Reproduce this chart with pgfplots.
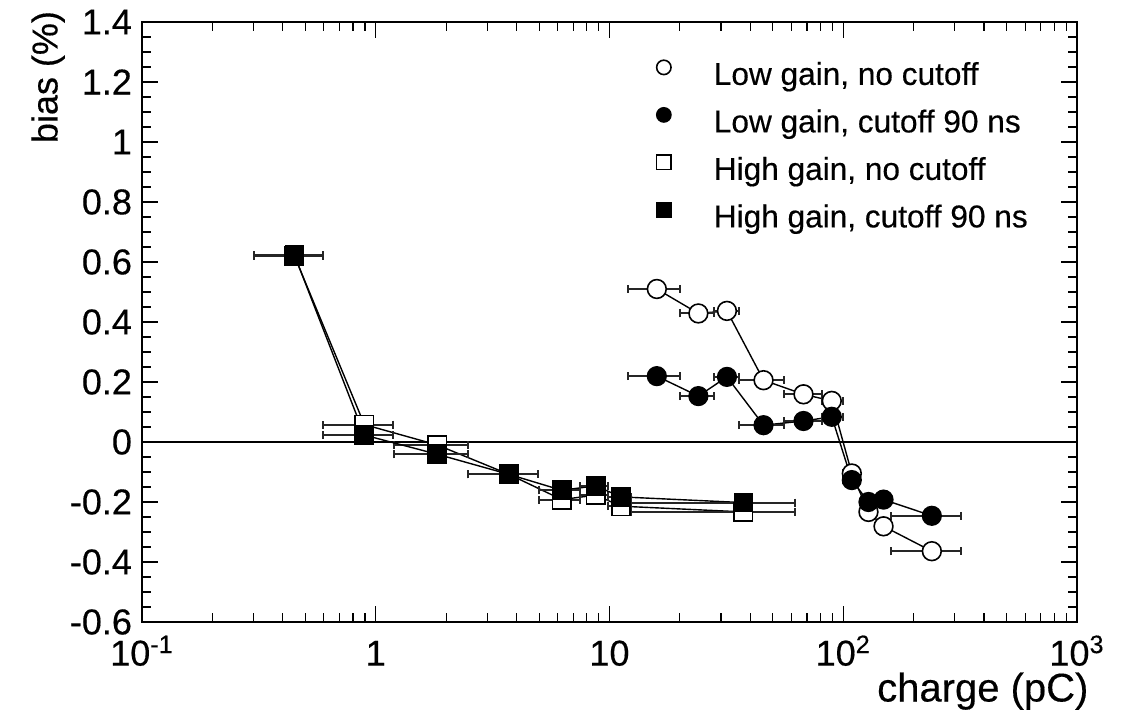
\documentclass[border=0pt]{standalone}
\usepackage{fontspec}
\setmainfont{Liberation Sans}[FakeBold=0.35]
\usepackage{pgfplots}
\pgfplotsset{compat=1.18}
\begin{document}
\begin{tikzpicture}
\path[use as bounding box] (-71pt,-44.15pt) rectangle (490pt,311pt);
\begin{axis}[
  name=ax, at={(0pt,0pt)}, anchor=south west, scale only axis,
  width=467.5pt, height=300pt,
  xmode=log, xmin=0.1, xmax=1000, ymin=-0.6, ymax=1.4,
  xtick={0.1,1,10,100,1000},
  xticklabels={10\textsuperscript{-1},1,10,10\textsuperscript{2},10\textsuperscript{3}},
  ytick={-0.6,-0.4,-0.2,0,0.2,0.4,0.6,0.8,1,1.2,1.4},
  yticklabels={-0.6,-0.4,-0.2,0,0.2,0.4,0.6,0.8,1,1.2,1.4},
  minor y tick num=3,
  tick align=inside, xtick pos=both, ytick pos=both,
  major tick length=8pt, minor tick length=4.5pt,
  tick style={black, line width=0.6pt},
  axis line style={line width=1pt},
  tick label style={font=\fontsize{18}{21}\selectfont},
  xticklabel style={anchor=base, yshift=-21.8pt, inner sep=0.5pt},
  yticklabel style={xshift=-1.5pt},
  xlabel={charge (pC)},
  xlabel style={at={(rel axis cs:1.0255,-0.1325)}, anchor=base east, inner sep=0.5pt, xshift=-5.5pt, font=\fontsize{20}{24}\selectfont},
  ylabel={bias (\%)},
  ylabel style={at={(rel axis cs:-0.0749,1.03)}, anchor=south east, font=\fontsize{18}{21}\selectfont},
  legend style={draw=none, fill=none, at={(rel axis cs:0.547,0.94)}, anchor=north west,
    font=\fontsize{15.8}{19}\selectfont, row sep=7.5pt, inner sep=0pt,
    nodes={inner sep=0pt, text height=11.5pt, text depth=3pt},
    /tikz/every odd column/.append style={column sep=20pt}},
  legend cell align=left,
  legend image code/.code={\path[draw=none,fill=none] (-5pt,-1pt) rectangle (5pt,9pt); \draw[#1, mark size=3.6pt] plot coordinates {(0pt,4.5pt)};},
  every axis plot/.append style={black, line width=0.7pt},
  error bars/error bar style={line width=1pt, black!85},
  error bars/error mark options={rotate=90, mark size=2pt, line width=1pt, black!85},
]
\addplot[black, line width=1.4pt, forget plot] coordinates {(0.1,0) (1000,0)};

% Low gain, no cutoff
\addplot[mark=*, mark size=4.7pt, mark options={fill=white, line width=0.8pt},
  error bars/.cd, x dir=both, x explicit] coordinates {
  (15.94,0.510) += (4.06,0) -= (4.0,0)
  (24.0,0.4285) += (4.1,0) -= (4.0,0)
  (31.8,0.437) += (4.1,0) -= (3.7,0)
  (45.6,0.206) += (10.2,0) -= (9.7,0)
  (67.6,0.159) += (13.3,0) -= (11.8,0)
  (89.3,0.137) += (10.7,0) -= (8.4,0)
  (108.8,-0.105) += (9,0) -= (8.8,0)
  (128.2,-0.233) += (10,0) -= (10,0)
  (148.7,-0.281) += (11,0) -= (11,0)
  (239.3,-0.364) += (80.3,0) -= (79.5,0)
};
\addlegendentry{Low gain, no cutoff}

% Low gain, cutoff 90 ns
\addplot[mark=*, mark size=4.7pt, mark options={fill=black},
  error bars/.cd, x dir=both, x explicit] coordinates {
  (15.94,0.2195) += (4.06,0) -= (4.0,0)
  (24.0,0.153) += (4.1,0) -= (4.0,0)
  (31.8,0.217) += (4.1,0) -= (3.7,0)
  (45.6,0.056) += (10.2,0) -= (9.7,0)
  (67.6,0.070) += (13.3,0) -= (11.8,0)
  (89.3,0.084) += (10.7,0) -= (8.4,0)
  (108.8,-0.127) += (9,0) -= (8.8,0)
  (128.2,-0.200) += (10,0) -= (10,0)
  (148.7,-0.192) += (11,0) -= (11,0)
  (239.3,-0.246) += (80.3,0) -= (79.5,0)
};
\addlegendentry{Low gain, cutoff 90 ns}

% High gain, no cutoff
\addplot[mark=square*, mark size=4.6pt, mark options={fill=white, line width=0.8pt},
  error bars/.cd, x dir=both, x explicit] coordinates {
  (0.449,0.620) += (0.148,0) -= (0.149,0)
  (0.894,0.058) += (0.295,0) -= (0.297,0)
  (1.835,-0.010) += (0.655,0) -= (0.637,0)
  (3.72,-0.108) += (1.24,0) -= (1.23,0)
  (6.25,-0.192) += (1.23,0) -= (1.28,0)
  (8.73,-0.177) += (1.16,0) -= (1.24,0)
  (11.2,-0.214) += (1.17,0) -= (1.3,0)
  (37.4,-0.233) += (24.9,0) -= (25,0)
};
\addlegendentry{High gain, no cutoff}

% High gain, cutoff 90 ns
\addplot[mark=square*, mark size=4.6pt, mark options={fill=black},
  error bars/.cd, x dir=both, x explicit] coordinates {
  (0.449,0.623) += (0.148,0) -= (0.149,0)
  (0.894,0.023) += (0.295,0) -= (0.297,0)
  (1.835,-0.041) += (0.655,0) -= (0.637,0)
  (3.72,-0.108) += (1.24,0) -= (1.23,0)
  (6.25,-0.161) += (1.23,0) -= (1.28,0)
  (8.73,-0.146) += (1.16,0) -= (1.24,0)
  (11.2,-0.183) += (1.17,0) -= (1.3,0)
  (37.4,-0.202) += (24.9,0) -= (25,0)
};
\addlegendentry{High gain, cutoff 90 ns}
\end{axis}
\end{tikzpicture}
\end{document}
